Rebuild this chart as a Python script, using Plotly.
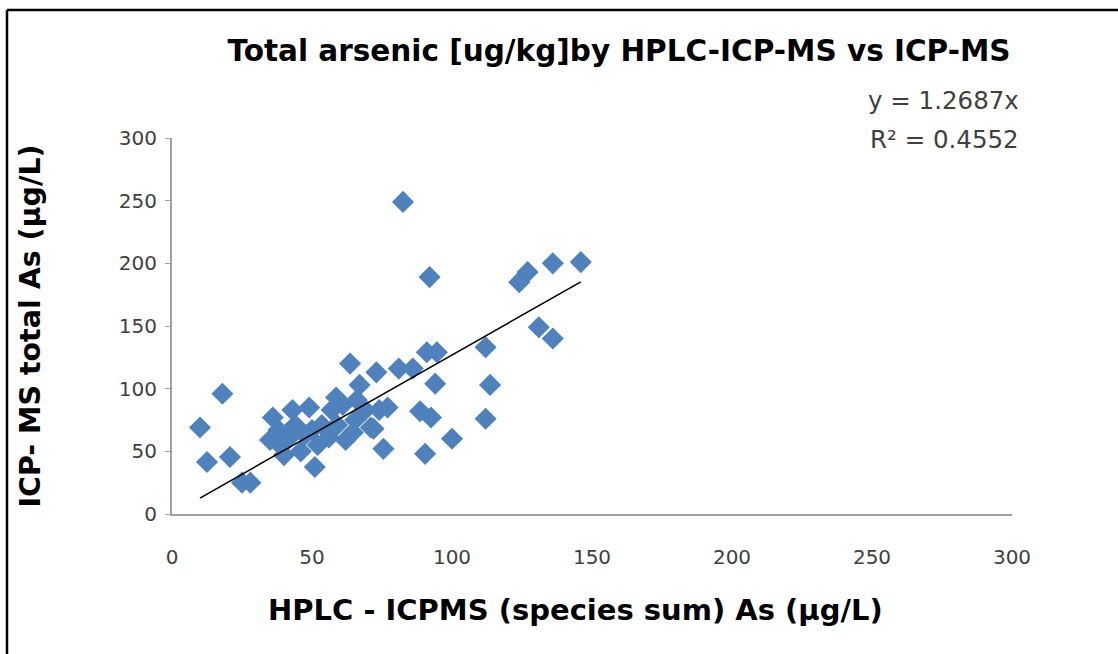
import plotly.graph_objects as go
import numpy as np

hplc_sum = [10, 12.5, 18, 20.7, 25, 28, 35, 36, 38, 39, 40, 42, 43, 44, 46, 47.5, 49, 50, 51, 52,
            53.5, 56, 57, 58.6, 59, 61, 62, 63.6, 64.6, 65.4, 66, 67, 69, 71, 72, 73, 74, 75.5, 77,
            81, 86, 88.6, 90.4, 91, 92.5, 94, 94.6, 92, 82.5, 100, 112, 113.6, 112, 124, 127, 136,
            146, 131, 136]
icpms_total = [69, 41.5, 96, 45.5, 25, 25, 59, 77, 67, 54, 47, 61, 83, 71, 50, 63, 85, 67, 37.5, 55,
               71, 61, 83, 93, 71, 87, 59, 120, 65, 75, 91, 103, 83, 69, 68, 113, 83, 52, 85,
               116, 116, 82, 48, 129, 77, 104, 129, 189, 249, 60, 133, 103, 76, 185, 193, 200,
               201, 149, 140]
slope = 1.2687
r_squared = 0.4552

x_ticks = [0, 50, 100, 150, 200, 250, 300]
y_ticks = [0, 50, 100, 150, 200, 250, 300]

fit_x = np.array([min(hplc_sum), max(hplc_sum)])
fit_y = slope * fit_x

PW, PH, L, T = 840, 376, 172, 138

def px(xp):
    return (xp - L) / PW

def py(yp):
    return 1 - (yp - T) / PH

fig = go.Figure()
fig.add_trace(go.Scatter(
    x=hplc_sum, y=icpms_total, mode="markers",
    marker=dict(symbol="diamond", size=17, color="#4F81BD", line=dict(width=0)),
    showlegend=False, hoverinfo="x+y"))
fig.add_trace(go.Scatter(
    x=fit_x, y=fit_y, mode="lines",
    line=dict(color="#000000", width=1.6), showlegend=False))

tick_font = dict(family="DejaVu Sans", size=20, color="#404040")
fig.update_layout(
    width=1118, height=654,
    margin=dict(l=L, r=1118 - L - PW, t=T, b=654 - T - PH),
    paper_bgcolor="white", plot_bgcolor="white",
    title=dict(text="<b>Total arsenic [ug/kg]by HPLC-ICP-MS vs ICP-MS</b>",
               x=619 / 1118, xanchor="center", y=0.923, yanchor="middle",
               font=dict(family="DejaVu Sans", size=29.5, color="#000000")),
    xaxis=dict(range=[0, 300], tickvals=x_ticks, ticktext=[str(v) for v in x_ticks],
               showgrid=False, zeroline=False, showline=True, linecolor="#a0a0a0", linewidth=2,
               ticks="", tickfont=tick_font, ticklabelstandoff=24),
    yaxis=dict(range=[0, 300], tickvals=y_ticks, ticktext=[str(v) for v in y_ticks],
               showgrid=False, zeroline=False, showline=True, linecolor="#a0a0a0", linewidth=2,
               ticks="outside", ticklen=5, tickcolor="#a0a0a0", tickwidth=1,
               tickfont=tick_font, ticklabelstandoff=4,
               title=dict(text="<b>ICP- MS total As (µg/L)</b>", standoff=70,
                          font=dict(family="DejaVu Sans", size=28.5, color="#000000"))),
    annotations=[
        dict(text="<b>HPLC - ICPMS (species sum) As (µg/L)</b>", xref="paper", yref="paper",
             x=px(575), y=py(610), xanchor="center", yanchor="middle", showarrow=False,
             font=dict(family="DejaVu Sans", size=29, color="#000000")),
        dict(text=f"y = {slope}x", xref="paper", yref="paper", x=px(1021), y=py(100),
             xanchor="right", yanchor="middle", showarrow=False,
             font=dict(family="DejaVu Sans", size=24.5, color="#404040")),
        dict(text=f"R² = {r_squared}", xref="paper", yref="paper", x=px(1021), y=py(139),
             xanchor="right", yanchor="middle", showarrow=False,
             font=dict(family="DejaVu Sans", size=24.5, color="#404040")),
    ],
    shapes=[
        dict(type="line", xref="paper", yref="paper", x0=px(7), x1=px(1130),
             y0=py(10), y1=py(10), line=dict(color="#000", width=2.5)),
        dict(type="line", xref="paper", yref="paper", x0=px(7), x1=px(7),
             y0=py(10), y1=py(660), line=dict(color="#000", width=2.5)),
    ],
)
fig.write_html("out.html", config={"displayModeBar": False})
